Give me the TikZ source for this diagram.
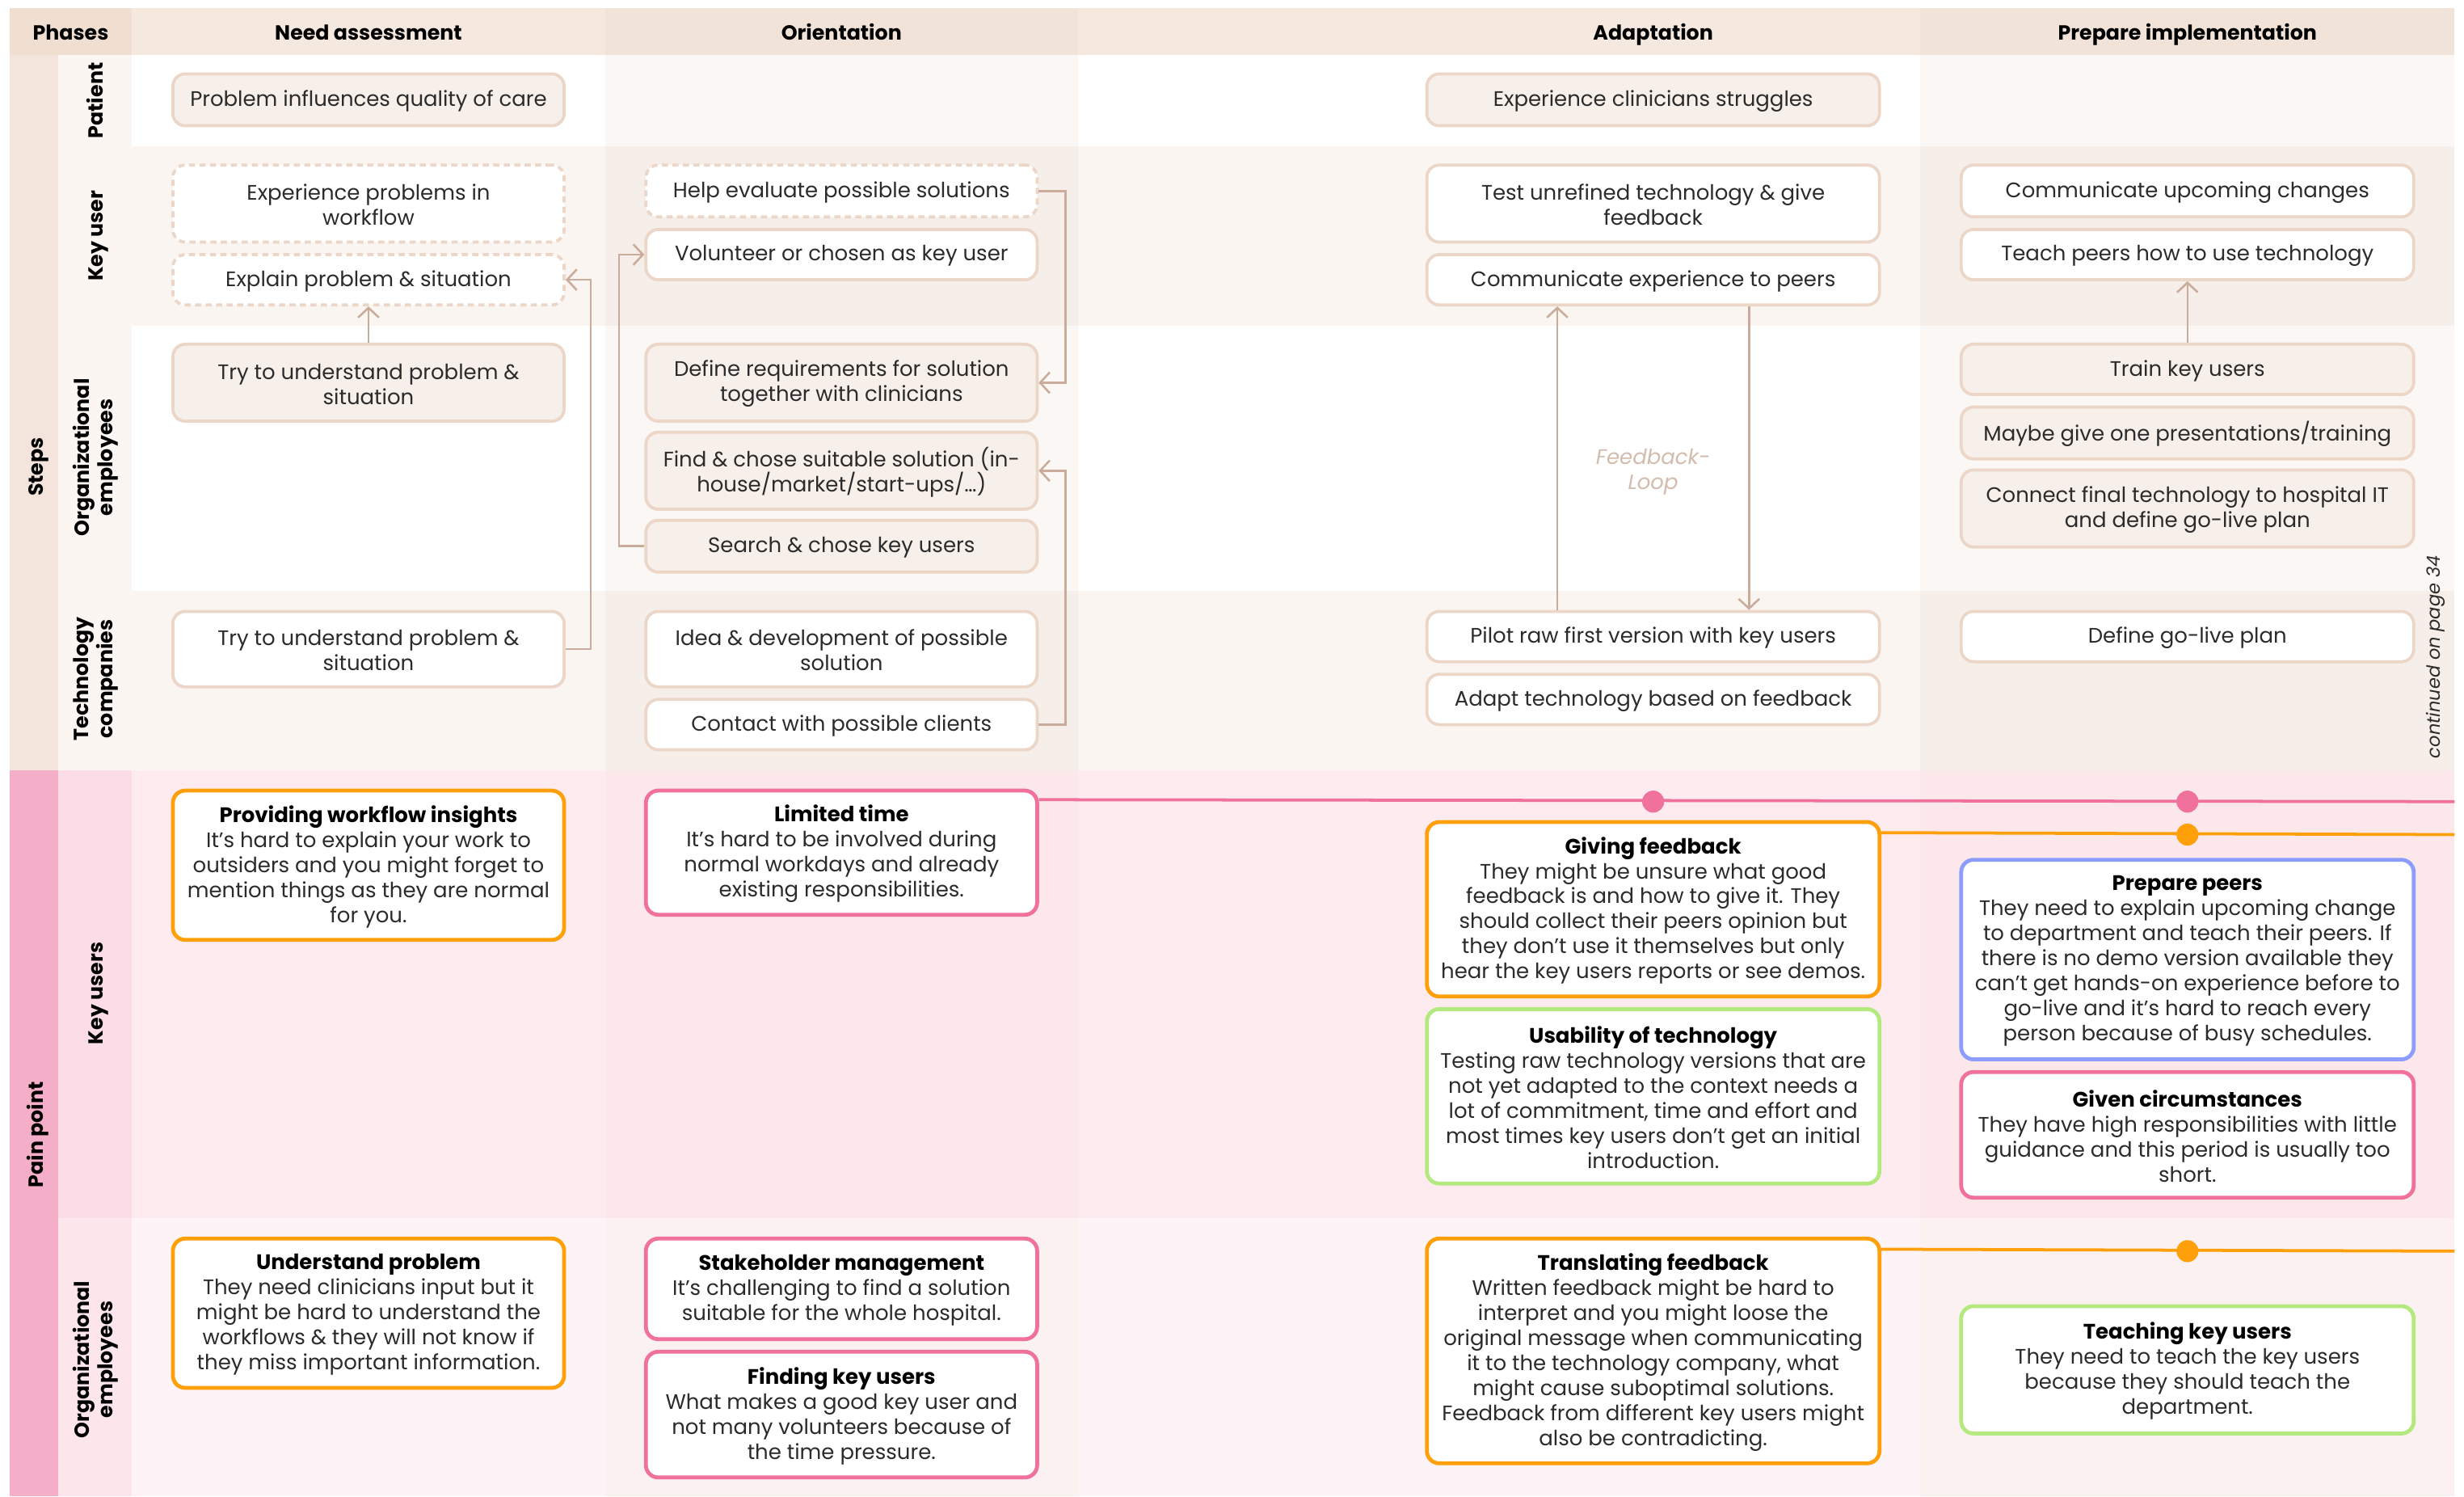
\documentclass[tikz,border=0pt]{standalone}
\usepackage{fontspec}
\setmainfont{Poppins}
\usetikzlibrary{arrows.meta,calc}

% palette
\definecolor{txt}{HTML}{2B2B2B}
\definecolor{peach}{HTML}{EBD6C8}
\definecolor{cream}{HTML}{F7EFE9}
\definecolor{arrowc}{HTML}{C9AC9B}
\definecolor{loopc}{HTML}{D2BCAE}
\definecolor{hdrA}{HTML}{F5E8DF}
\definecolor{hdrB}{HTML}{F2E3D8}
\definecolor{hdrP}{HTML}{F0DED0}
\definecolor{stripS}{HTML}{F3E5DB}
\definecolor{stripP}{HTML}{F5AEC8}
\definecolor{labS}{HTML}{FBF6F2}
\definecolor{rowT}{HTML}{FAF5F1}
\definecolor{colT}{HTML}{D9B8A0}
\definecolor{labK}{HTML}{FCDCE6}
\definecolor{labO}{HTML}{FCE6EC}
\definecolor{pkA}{HTML}{FEEBF0}
\definecolor{pkB}{HTML}{FCE7EA}
\definecolor{ltA}{HTML}{FEF3F6}
\definecolor{ltB}{HTML}{FCF1F1}
\definecolor{orangec}{HTML}{FF9F0A}
\definecolor{pinkc}{HTML}{F0719B}
\definecolor{greenc}{HTML}{B3E97E}
\definecolor{bluec}{HTML}{8C9DFF}

\newcommand{\bodysize}{\fontsize{7.6}{9.07}\selectfont}
\newcommand{\labsize}{\fontsize{7.4}{7.4}\selectfont\bfseries}
\newcommand{\headsize}{\fontsize{7.4}{8}\selectfont\bfseries}

% box placed by its corners (x1,y1) and (x2,y2); text set slightly lower
\newcommand{\placebox}[7]{%
  \node[#6, minimum width={(#4-#2)*0.02cm}, minimum height={(#5-#3)*0.02cm}]
    (#1) at ({(#2+#4)/2},{(#3+#5)/2}) {};
  \node[font=\bodysize, text=txt, align=center, inner sep=0pt]
    (#1-t) at ($(#1.center)+(0,0.8)$) {#7};}

\tikzset{
  base/.style={rounded corners=4.5pt, inner sep=2pt},
  stepbox/.style={base, draw=peach, line width=1.1pt, fill=white},
  creambox/.style={stepbox, fill=cream},
  dashbox/.style={base, draw=peach, line width=1.1pt,
    dash pattern=on 2.2pt off 1.6pt, fill=white},
  painbox/.style={base, line width=1.4pt, fill=white},
  flow/.style={draw=arrowc, line width=0.75pt,
    -{Straight Barb[length=3.5pt,width=7.5pt,line width=0.75pt]}},
  headtext/.style={font=\headsize, text=black, text height=1.45ex, text depth=0.3ex},
  rowlab/.style={rotate=90, font=\labsize, align=center, text=black},
  rowlabone/.style={rowlab, text height=1.45ex, text depth=0.3ex},
  track/.style={line width=1.1pt},
  dot/.style={circle, inner sep=0pt, minimum size=0.28cm},
}

\begin{document}
\begin{tikzpicture}[x=0.02cm,y=-0.02cm]
\useasboundingbox (0,0) rectangle (1568,952);
\fill[white] (0,0) rectangle (1568,952);

% ---------- header band ----------
\fill[hdrP] (6,5) rectangle (84,35);
\fill[hdrA] (84,5) rectangle (385,35);
\fill[hdrB] (385,5) rectangle (686,35);
\fill[hdrA] (686,5) rectangle (1222,35);
\fill[hdrB] (1222,5) rectangle (1562,35);

% ---------- steps section ----------
\fill[stripS] (6,35) rectangle (37,490);
\fill[labS] (37,35) rectangle (84,490);
\fill[white] (84,35) rectangle (1562,93);
\fill[rowT] (84,93) rectangle (1562,207);
\fill[white] (84,207) rectangle (1562,376);
\fill[rowT] (84,376) rectangle (1562,490);
\fill[colT, opacity=0.1] (385,35) rectangle (686,490);
\fill[colT, opacity=0.1] (1222,35) rectangle (1562,490);

% ---------- pain point section ----------
\fill[stripP] (6,490) rectangle (37,952);
\fill[labK] (37,490) rectangle (84,775);
\fill[labO] (37,775) rectangle (84,952);
\fill[pkA] (84,490) rectangle (385,775);
\fill[pkB] (385,490) rectangle (686,775);
\fill[pkA] (686,490) rectangle (1222,775);
\fill[pkB] (1222,490) rectangle (1562,775);
\fill[ltA] (84,775) rectangle (385,952);
\fill[ltB] (385,775) rectangle (686,952);
\fill[ltA] (686,775) rectangle (1222,952);
\fill[ltB] (1222,775) rectangle (1562,952);

% ---------- headings and lane labels ----------
\node[headtext] (hph) at (45,20) {Phases};
\node[headtext] (hna) at (234.5,20) {Need assessment};
\node[headtext] (hor) at (535.5,20) {Orientation};
\node[headtext] (had) at (1052,20) {Adaptation};
\node[headtext] (hpr) at (1392,20) {Prepare implementation};

\node[rowlabone] (lsteps) at (22,297) {Steps};
\node[rowlabone] (lpain) at (22,722) {Pain point};
\node[rowlabone] (lpat) at (60,64) {Patient};
\node[rowlabone] (lkey) at (60,150) {Key user};
\node[rowlab] (lorg) at (61,291) {Organizational\\employees};
\node[rowlab] (ltec) at (61,432) {Technology\\companies};
\node[rowlabone] (lkeys) at (60,632) {Key users};
\node[rowlab] (lorg2) at (61,865) {Organizational\\employees};

% ---------- steps: need assessment ----------
\placebox{napat}{110}{47}{359}{80}{creambox}{Problem influences quality of care}
\placebox{naexp}{110}{105}{359}{154}{dashbox}{Experience problems in\\workflow}
\placebox{naexpl}{110}{162}{359}{194}{dashbox}{Explain problem \& situation}
\placebox{naorg}{110}{219}{359}{268}{creambox}{Try to understand problem \&\\situation}
\placebox{natec}{110}{389}{359}{437}{stepbox}{Try to understand problem \&\\situation}

% ---------- steps: orientation ----------
\placebox{orhelp}{411}{105}{660}{138}{dashbox}{Help evaluate possible solutions}
\placebox{orvol}{411}{146}{660}{178}{stepbox}{Volunteer or chosen as key user}
\placebox{ordef}{411}{219}{660}{268}{creambox}{Define requirements for solution\\together with clinicians}
\placebox{orfind}{411}{275}{660}{324}{creambox}{Find \& chose suitable solution (in-\\house/market/start-ups/…)}
\placebox{orsearch}{411}{331}{660}{364}{creambox}{Search \& chose key users}
\placebox{oridea}{411}{389}{660}{437}{stepbox}{Idea \& development of possible\\solution}
\placebox{orcont}{411}{445}{660}{477}{stepbox}{Contact with possible clients}

% ---------- steps: adaptation ----------
\placebox{adpat}{908}{47}{1196}{80}{creambox}{Experience clinicians struggles}
\placebox{adtest}{908}{105}{1196}{154}{stepbox}{Test unrefined technology \& give\\feedback}
\placebox{adcomm}{908}{162}{1196}{194}{stepbox}{Communicate experience to peers}
\placebox{adpilot}{908}{389}{1196}{421}{stepbox}{Pilot raw first version with key users}
\placebox{adadapt}{908}{429}{1196}{461}{stepbox}{Adapt technology based on feedback}
\node[font=\bodysize\itshape, text=loopc, align=center] (loop) at (1052,300) {Feedback-\\Loop};

% ---------- steps: prepare implementation ----------
\placebox{prcomm}{1248}{105}{1536}{138}{stepbox}{Communicate upcoming changes}
\placebox{prteach}{1248}{146}{1536}{178}{stepbox}{Teach peers how to use technology}
\placebox{prtrain}{1248}{219}{1536}{251}{creambox}{Train key users}
\placebox{prmaybe}{1248}{259}{1536}{292}{creambox}{Maybe give one presentations/training}
\placebox{prconn}{1248}{299}{1536}{348}{creambox}{Connect final technology to hospital IT\\and define go-live plan}
\placebox{prgo}{1248}{389}{1536}{421}{stepbox}{Define go-live plan}
\node[rotate=90, font=\fontsize{6.6}{7}\selectfont\itshape, text=txt] (cont) at (1550,418) {continued on page 34};

% ---------- step connectors ----------
\draw[flow] (naorg.north) -- (naexpl.south);
\draw[flow] (natec.east) -- ++(16,0) |- (naexpl.east);
\draw[flow] (orsearch.west) -- ++(-16,0) |- (orvol.west);
\draw[flow] (orhelp.east) -- ++(17,0) |- (ordef.east);
\draw[flow] (orcont.east) -- ++(17,0) |- (orfind.east);
\draw[flow] ($(adpilot.north)+(-61,0)$) -- ($(adcomm.south)+(-61,0)$);
\draw[flow] ($(adcomm.south)+(61,0)$) -- ($(adpilot.north)+(61,0)$);
\draw[flow] (prtrain.north) -- (prteach.south);

% ---------- pain points: key users ----------
\placebox{pwork}{110}{503}{359}{598}{painbox, draw=orangec}{{\bfseries\color{black}Providing workflow insights}\\It’s hard to explain your work to\\outsiders and you might forget to\\mention things as they are normal\\for you.}
\placebox{ptime}{411}{503}{660}{582}{painbox, draw=pinkc}{{\bfseries\color{black}Limited time}\\It’s hard to be involved during\\normal workdays and already\\existing responsibilities.}
\placebox{pgive}{908}{523}{1196}{634}{painbox, draw=orangec}{{\bfseries\color{black}Giving feedback}\\They might be unsure what good\\feedback is and how to give it. They\\should collect their peers opinion but\\they don't use it themselves but only\\hear the key users reports or see demos.}
\placebox{pusab}{908}{642}{1196}{753}{painbox, draw=greenc}{{\bfseries\color{black}Usability of technology}\\Testing raw technology versions that are\\not yet adapted to the context needs a\\lot of commitment, time and effort and\\most times key users don’t get an initial\\introduction.}
\placebox{ppeers}{1248}{547}{1536}{674}{painbox, draw=bluec}{{\bfseries\color{black}Prepare peers}\\They need to explain upcoming change\\to department and teach their peers. If\\there is no demo version available they\\can’t get hands-on experience before to\\go-live and it’s hard to reach every\\person because of busy schedules.}
\placebox{pcirc}{1248}{682}{1536}{762}{painbox, draw=pinkc}{{\bfseries\color{black}Given circumstances}\\They have high responsibilities with little\\guidance and this period is usually too\\short.}

% ---------- pain points: organizational employees ----------
\placebox{punder}{110}{788}{359}{883}{painbox, draw=orangec}{{\bfseries\color{black}Understand problem}\\They need clinicians input but it\\might be hard to understand the\\workflows \& they will not know if\\they miss important information.}
\placebox{pstake}{411}{788}{660}{852}{painbox, draw=pinkc}{{\bfseries\color{black}Stakeholder management}\\It’s challenging to find a solution\\suitable for the whole hospital.}
\placebox{pfind}{411}{860}{660}{940}{painbox, draw=pinkc}{{\bfseries\color{black}Finding key users}\\What makes a good key user and\\not many volunteers because of\\the time pressure.}
\placebox{ptrans}{908}{788}{1196}{931}{painbox, draw=orangec}{{\bfseries\color{black}Translating feedback}\\Written feedback might be hard to\\interpret and you might loose the\\original message when communicating\\it to the technology company, what\\might cause suboptimal solutions.\\Feedback from different key users might\\also be contradicting.}
\placebox{pteach}{1248}{831}{1536}{912}{painbox, draw=greenc}{{\bfseries\color{black}Teaching key users}\\They need to teach the key users\\because they should teach the\\department.}

% ---------- pain point tracks ----------
\coordinate (pinkend) at (1562,510);
\coordinate (orendA) at (1562,531);
\coordinate (orendB) at (1562,796);
\draw[track, pinkc] ($(ptime.north east)+(0,7)$) -- (pinkend);
\draw[track, orangec] ($(pgive.north east)+(0,8)$) -- (orendA);
\draw[track, orangec] ($(ptrans.north east)+(0,8)$) -- (orendB);
\node[dot, fill=pinkc] (pdA) at (1052,510) {};
\node[dot, fill=pinkc] (pdB) at (1392,510) {};
\node[dot, fill=orangec] (odA) at (1392,531) {};
\node[dot, fill=orangec] (odB) at (1392,796) {};
\end{tikzpicture}
\end{document}
